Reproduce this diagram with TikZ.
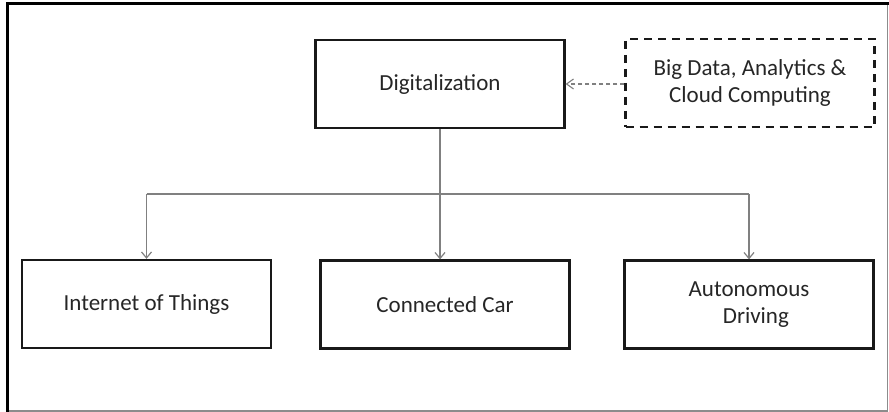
\documentclass[tikz,border=0pt]{standalone}
\usepackage{fontspec}
\setmainfont{Carlito}
\usetikzlibrary{arrows.meta}

\tikzset{
  box/.style={draw=black!90, line width=2.2pt, minimum width=249pt, minimum height=88pt,
    inner sep=0pt, align=center, text=black!85,
    font=\fontsize{23}{27}\selectfont},
  dashbox/.style={box, dash pattern=on 8pt off 6pt},
  link/.style={draw=black!50, line width=1.3pt,
    -{Straight Barb[length=6pt,width=10pt,line width=1.2pt]}},
  dashlink/.style={draw=black!50, line width=1.1pt, dash pattern=on 4pt off 3pt,
    -{Straight Barb[length=7pt,width=10pt,line width=1.1pt]}}
}

\begin{document}
\begin{tikzpicture}[x=1pt,y=1pt]
  \useasboundingbox (0,0) rectangle (889,412);
  % page frame
  \draw[black!45, line width=1.2pt] (887.5,408) -- (887.5,1) -- (7,1);
  \draw[black, line width=2.6pt] (7.3,0) -- (7.3,408.2) -- (889,408.2);

  % top row
  \node[box] (dig) at (440,328) {Digitalization};
  \node[dashbox] (big) at (750,329) {Big Data, Analytics \&\\Cloud Computing};

  % bottom row
  \node[box] (iot) at (146.5,108) {Internet of Things};
  \node[box] (car) at (445,107.5) {Connected Car};
  \node[box] (auto) at (749,107.5) {Autonomous\\\hspace*{0.6em}Driving};

  % branching connectors
  \coordinate (split) at (440,218);
  \draw[draw=black!50, line width=1.3pt] (dig.south) -- (split);
  \draw[draw=black!50, line width=1.3pt] (iot.north |- split) -- (auto.north |- split);
  \draw[link] (split -| iot.north) -- (iot.north);
  \draw[link] (split) -- (split |- car.north);
  \draw[link] (split -| auto.north) -- (auto.north);

  % input from the data box
  \draw[dashlink] (big.west |- 0,328) -- (dig.east);
\end{tikzpicture}
\end{document}
